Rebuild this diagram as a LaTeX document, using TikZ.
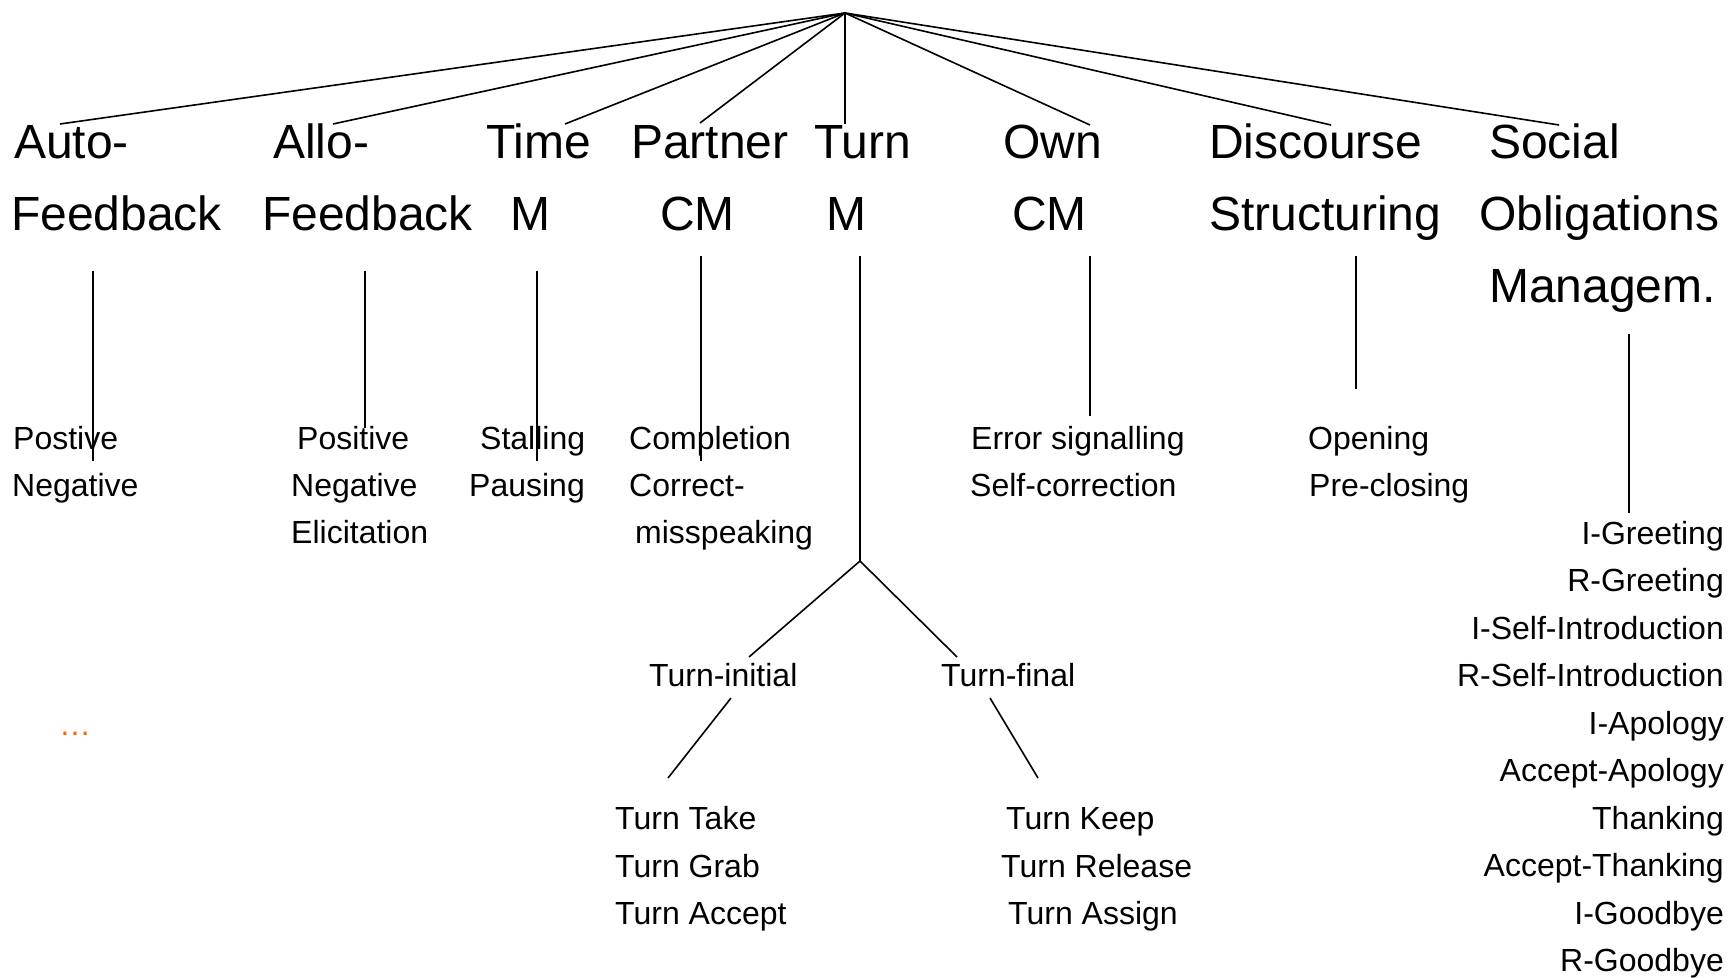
\documentclass[tikz,border=0pt]{standalone}
\usepackage{fontspec}
\setmainfont{Liberation Sans}
\usepackage{tikz}
\definecolor{dotorange}{RGB}{255,102,0}
\newcommand{\dimfont}{\fontsize{48}{72}\selectfont}
\newcommand{\actfont}{\fontsize{32}{47.5}\selectfont}
\tikzset{
  dimlbl/.style={font=\dimfont,anchor=base west,inner sep=0pt},  % dimension names
  actlbl/.style={font=\actfont,anchor=base west,inner sep=0pt},  % function names
  actright/.style={actlbl,anchor=base east},
  branch/.style={black,line width=1.6pt},
}

\begin{document}
\begin{tikzpicture}[x=1pt,y=-1pt]
  \useasboundingbox (0,0) rectangle (1729,977);

  % dimensions
  \foreach \nm/\x/\y/\t in {auto/14/158/Auto-, autob/11/230/Feedback,
      allo/273/158/Allo-, allob/262/230/Feedback,
      time/486/158/Time, timeb/510/230/M,
      partner/631/158/Partner, partnerb/660/230/CM,
      turn/814/158/Turn, turnb/826/230/M,
      own/1003/158/Own, ownb/1012/230/CM,
      disc/1209/158/Discourse, discb/1209/230/Structuring,
      social/1489/158/Social, socialb/1479/230/Obligations, socialc/1489/302/Managem.}
    \node[dimlbl] (\nm) at (\x,\y) {\t};

  % communicative functions
  \foreach \nm/\x/\y/\t in {afpos/13/449/Postive, afneg/12/496/Negative,
      alpos/297/449/Positive, alneg/291/496/Negative, alelic/291/543/Elicitation,
      tmstall/480/449/Stalling, tmpause/469/496/Pausing,
      pcompl/629/449/Completion, pcorr/629/496/Correct-, pcorrb/635/543/misspeaking,
      ocerr/971/449/Error signalling, ocself/970/496/Self-correction,
      dsopen/1308/449/Opening, dspre/1309/496/Pre-closing,
      tinit/649/686/Turn-initial, tfinal/941/686/Turn-final,
      ttake/615/829/Turn Take, tgrab/615/877/Turn Grab, taccept/615/924/Turn Accept,
      tkeep/1006/829/Turn Keep, trel/1001/877/Turn Release, tassign/1008/924/Turn Assign}
    \node[actlbl] (\nm) at (\x,\y) {\t};

  \foreach \t [count=\i] in {I-Greeting, R-Greeting, I-Self-Introduction,
      R-Self-Introduction, I-Apology, Accept-Apology, Thanking,
      Accept-Thanking, I-Goodbye, R-Goodbye}
    \node[actright] (so\i) at (1724,{544+47.5*(\i-1)}) {\t};

  \node[actlbl,text=dotorange] (afmore) at (59,735) {\dots};

  % tree
  \coordinate (root) at (845,13);
  \foreach \c/\x/\y in {auto-in/60/124, allo-in/333/124, time-in/565/124,
      partner-in/700/123, turn-in/845/124, own-in/1090/125,
      disc-in/1331/125, social-in/1559/125}
    \coordinate (\c) at (\x,\y);
  \foreach \c in {auto,allo,time,partner,turn,own,disc,social}
    \draw[branch] (root) -- (\c-in);

  \foreach \c/\x/\ya/\yb in {auto/93/271/461, allo/365/271/428,
      time/537/271/461, partner/701/256/461, own/1090/256/416,
      disc/1356/256/389, social/1629/334/513}
    \draw[branch] (\x,\ya) coordinate (\c-out) -- (\x,\yb) coordinate (\c-sub);

  % turn management splits
  \coordinate (turn-out) at (860,256);
  \coordinate (fork) at (860,561);
  \coordinate (tinit-in) at (749,657);
  \coordinate (tfinal-in) at (957,657);
  \coordinate (tinit-out) at (731,698);
  \coordinate (tinit-sub) at (668,778);
  \coordinate (tfinal-out) at (990,698);
  \coordinate (tfinal-sub) at (1038,778);
  \draw[branch] (turn-out) -- (fork);
  \draw[branch] (fork) -- (tinit-in);
  \draw[branch] (fork) -- (tfinal-in);
  \draw[branch] (tinit-out) -- (tinit-sub);
  \draw[branch] (tfinal-out) -- (tfinal-sub);
\end{tikzpicture}
\end{document}
